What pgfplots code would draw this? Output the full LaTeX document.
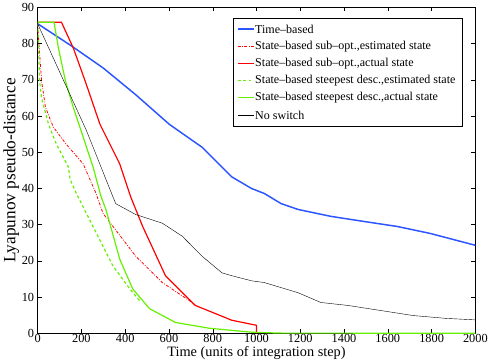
\documentclass[border=0pt]{standalone}
\usepackage{fontspec}
\setmainfont{Liberation Serif}
\usepackage{pgfplots}
\pgfplotsset{compat=1.18}
\definecolor{tblue}{RGB}{45,85,255}
\definecolor{sred}{RGB}{255,0,0}
\definecolor{sgreen}{RGB}{100,240,0}
\tikzset{
  stTime/.style={draw=tblue, solid, line width=1.5pt},
  stSubEst/.style={draw=sred, line width=0.8pt, dash pattern=on 3pt off 1.5pt on 0.8pt off 1.5pt},
  stSubAct/.style={draw=sred, solid, line width=1.2pt},
  stSteEst/.style={draw=sgreen, line width=1.2pt, dash pattern=on 3pt off 2.5pt},
  stSteAct/.style={draw=sgreen, solid, line width=1.2pt},
  stNone/.style={draw=black, solid, line width=0.4pt},
}

\begin{document}
\begin{tikzpicture}
\begin{axis}[
  name=ax,
  scale only axis,
  width=442bp, height=329bp,
  xmin=0, xmax=2000, ymin=0, ymax=90,
  xtick={0,200,...,2000}, ytick={0,10,...,90},
  tick align=inside, tick style={black, thin},
  major tick length=4bp,
  axis line style={black, thin},
  /pgf/number format/assume math mode=true,
  /pgf/number format/1000 sep={},
  tick label style={font=\fontsize{12.5}{13}\selectfont},
  xticklabel style={yshift=2bp},
  xlabel={Time (units of integration step)},
  ylabel={Lyapunov pseudo-distance},
  xlabel style={font=\fontsize{14.5}{15}\selectfont, yshift=3bp},
  ylabel style={font=\fontsize{17.5}{18}\selectfont, yshift=-4bp},
]
\addplot[stTime] coordinates {
  (0,85.5) (149,79.6) (299,73.3) (448,65.9) (602,57.7) (751,51.4) (887,43.2)
  (977,40) (1036,38.6) (1113,35.8) (1190,34.2) (1339,32.3) (1489,30.9)
  (1643,29.5) (1792,27.6) (2000,24.3)
};
\addplot[stSubEst] coordinates {
  (0,85.5) (2,83.4) (18,69.7) (36,62.4) (72,56.9) (131,52.2) (208,46.8)
  (267,38.6) (299,33.1) (448,21.3) (570,14) (706,8.5) (720,7.8)
};
\addplot[stSubAct] coordinates {
  (0,85.9) (109,85.9) (163,78.8) (217,69.7) (285,57.7) (375,46.8) (425,37.7)
  (480,29.5) (584,15.9) (720,7.7) (887,3.6) (1000,2.2) (1000,0)
};
\addplot[stSteEst] coordinates {
  (0,85.5) (2,83) (9,69.7) (18,65) (50,57.7) (86,52.2) (140,46) (149,42.4)
  (177,38.6) (253,29.5) (344,18.6) (421,12.3) (466,9)
};
\addplot[stSteAct] coordinates {
  (0,85.9) (75,85.9) (95,78.8) (127,69.7) (163,62.4) (208,54.2) (253,46)
  (290,37.7) (312,34.2) (375,20.5) (434,12.3) (511,6.8) (629,3) (783,1.4)
  (977,0.3) (1100,0.05) (2000,0)
};
\addplot[stNone] coordinates {
  (0,85.5) (223,56) (344,37.7) (357,35.8) (448,32.8) (570,30.4) (661,26.8)
  (751,21.3) (842,16.7) (887,15.9) (977,14.5) (1036,14) (1190,11.2)
  (1294,8.5) (1416,7.7) (1566,6.3) (1715,4.9) (1869,4.1) (2000,3.7)
};
\end{axis}
% legend, laid out from the axis' top-left corner (1 unit = 1bp, y downwards)
% solid samples are drawn before the dashed ones
\begin{scope}[shift={(ax.north west)}, x=1bp, y=-1bp,
  lt/.style={anchor=west, inner sep=0pt, font=\fontsize{12.2}{14}\selectfont}]
  \draw[black, line width=0.5pt, fill=white] (198,11) rectangle (429,119.5);
  \draw[stTime]   (202,21.7) -- (218,21.7);
  \draw[stSubAct] (202,56.5) -- (218,56.5);
  \draw[stSteAct] (202,91.3) -- (218,91.3);
  \draw[stNone]   (202,108.7) -- (218,108.7);
  \draw[stSubEst] (202,39.1) -- (218,39.1);
  \draw[stSteEst] (202,73.9) -- (218,73.9);
  \node[lt] at (219.5,21.7)  {Time--based};
  \node[lt] at (219.5,39.1)  {State--based sub--opt.,estimated state};
  \node[lt] at (219.5,56.5)  {State--based sub--opt.,actual state};
  \node[lt] at (219.5,73.9)  {State--based steepest desc.,estimated state};
  \node[lt] at (219.5,91.3)  {State--based steepest desc.,actual state};
  \node[lt] at (219.5,108.7) {No switch};
\end{scope}
\end{tikzpicture}
\end{document}
